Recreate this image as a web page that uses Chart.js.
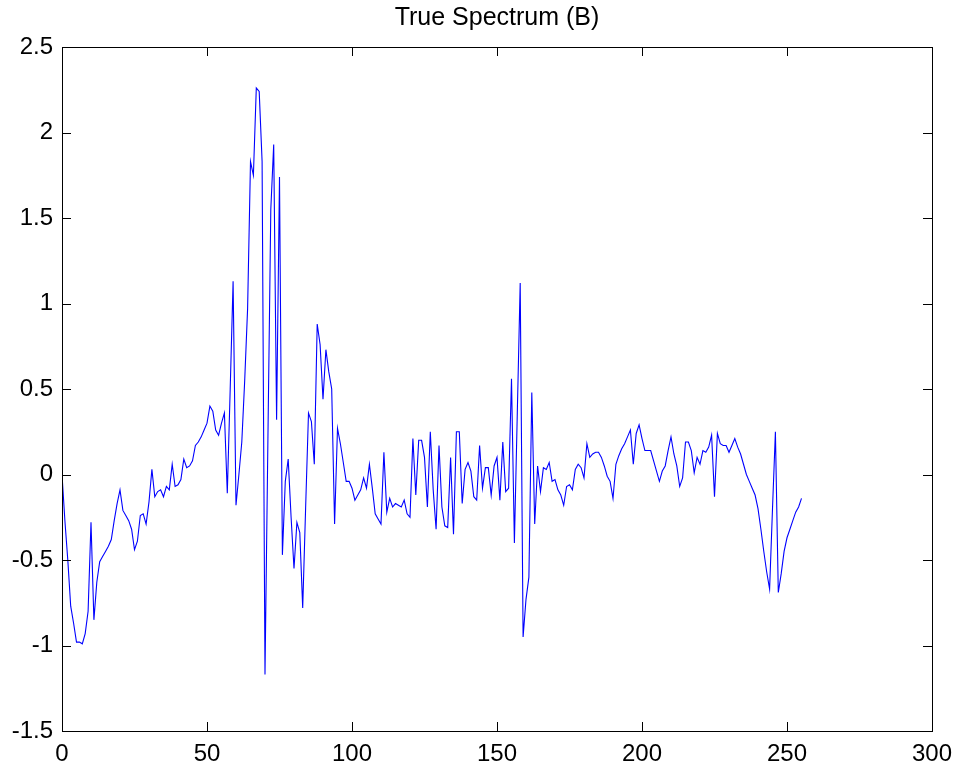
<!DOCTYPE html>
<html>
<head>
<meta charset="utf-8">
<script src="https://cdn.jsdelivr.net/npm/chart.js@4.4.1/dist/chart.umd.min.js"></script>
<style>
  html, body { margin: 0; padding: 0; background: #fff; }
  #wrap { width: 956px; height: 768px; position: relative; }
</style>
</head>
<body>
<div id="wrap"><canvas id="spectrum"></canvas></div>
<script>
// Data (sample index 0..255)
const spectrum = [
  0, -0.27, -0.50, -0.77, -0.87, -0.98, -0.98, -0.99, -0.93, -0.80,
  -0.28, -0.85, -0.63, -0.51, -0.48, -0.45, -0.42, -0.38, -0.27, -0.17,
  -0.09, -0.21, -0.24, -0.27, -0.32, -0.44, -0.39, -0.24, -0.23, -0.29,
  -0.16, 0.03, -0.13, -0.10, -0.09, -0.13, -0.07, -0.09, 0.06, -0.07,
  -0.06, -0.03, 0.09, 0.04, 0.05, 0.08, 0.17, 0.19, 0.22, 0.26,
  0.30, 0.40, 0.37, 0.26, 0.23, 0.30, 0.36, -0.11, 0.50, 1.13,
  -0.18, 0.00, 0.19, 0.55, 0.97, 1.83, 1.75, 2.26, 2.24, 1.83,
  -1.17, 0.20, 1.55, 1.93, 0.32, 1.74, -0.47, -0.04, 0.09, -0.25,
  -0.55, -0.28, -0.34, -0.78, -0.20, 0.36, 0.31, 0.06, 0.88, 0.76,
  0.44, 0.73, 0.60, 0.50, -0.29, 0.27, 0.18, 0.07, -0.04, -0.04,
  -0.08, -0.15, -0.12, -0.09, -0.02, -0.08, 0.06, -0.08, -0.23, -0.26,
  -0.29, 0.13, -0.22, -0.14, -0.19, -0.17, -0.18, -0.19, -0.15, -0.23,
  -0.25, 0.21, -0.12, 0.20, 0.20, 0.10, -0.19, 0.25, -0.09, -0.32,
  0.17, -0.19, -0.30, -0.31, 0.10, -0.35, 0.25, 0.25, -0.17, 0.03,
  0.07, 0.02, -0.13, -0.15, 0.17, -0.08, 0.04, 0.04, -0.12, 0.05,
  0.10, -0.15, 0.19, -0.10, -0.08, 0.56, -0.40, 0.36, 1.12, -0.95,
  -0.73, -0.60, 0.48, -0.29, 0.05, -0.10, 0.04, 0.03, 0.07, -0.04,
  -0.03, -0.09, -0.12, -0.18, -0.07, -0.06, -0.09, 0.03, 0.06, 0.04,
  -0.02, 0.18, 0.10, 0.12, 0.13, 0.13, 0.10, 0.05, -0.01, -0.04,
  -0.14, 0.06, 0.11, 0.15, 0.18, 0.22, 0.26, 0.06, 0.24, 0.29,
  0.21, 0.14, 0.14, 0.14, 0.08, 0.02, -0.04, 0.02, 0.05, 0.14,
  0.22, 0.12, 0.05, -0.07, -0.02, 0.19, 0.19, 0.14, 0.01, 0.10,
  0.06, 0.14, 0.13, 0.16, 0.23, -0.13, 0.24, 0.18, 0.17, 0.17,
  0.13, 0.17, 0.21, 0.16, 0.12, 0.06, 0.00, -0.04, -0.08, -0.12,
  -0.20, -0.32, -0.45, -0.57, -0.67, -0.20, 0.25, -0.69, -0.58, -0.45,
  -0.37, -0.32, -0.27, -0.22, -0.19, -0.14
];

// Tick values
const xTicks = [0, 50, 100, 150, 200, 250, 300];
const yTicks = [-1.5, -1, -0.5, 0, 0.5, 1, 1.5, 2, 2.5];

const FONT = "'Liberation Sans', Arial, Helvetica, sans-serif";

// Box with inward ticks on all four sides
const frameTicks = {
  id: 'frameTicks',
  afterDraw(chart) {
    const { ctx, chartArea: a, scales: { x, y } } = chart;
    const len = 9;
    ctx.save();
    ctx.strokeStyle = '#000';
    ctx.lineWidth = 1;
    ctx.strokeRect(a.left + 0.5, a.top + 0.5, a.right - a.left, a.bottom - a.top);
    ctx.beginPath();
    xTicks.forEach(v => {
      const px = Math.round(x.getPixelForValue(v)) + 0.5;
      ctx.moveTo(px, a.bottom);
      ctx.lineTo(px, a.bottom - len);
      ctx.moveTo(px, a.top);
      ctx.lineTo(px, a.top + len);
    });
    yTicks.forEach(v => {
      const py = Math.round(y.getPixelForValue(v)) + 0.5;
      ctx.moveTo(a.left, py);
      ctx.lineTo(a.left + len, py);
      ctx.moveTo(a.right, py);
      ctx.lineTo(a.right - len, py);
    });
    ctx.stroke();
    ctx.restore();
  }
};

const ctx = document.getElementById('spectrum').getContext('2d');
new Chart(ctx, {
  type: 'line',
  data: {
    datasets: [{
      label: 'True Spectrum (B)',
      data: spectrum.map((v, i) => ({ x: i, y: v })),
      borderColor: '#0000ff',
      borderWidth: 1.1,
      pointRadius: 0,
      tension: 0,
      fill: false
    }]
  },
  options: {
    responsive: true,
    maintainAspectRatio: false,
    animation: false,
    layout: { padding: { left: 0, right: 24, top: 0, bottom: 0 } },
    plugins: {
      legend: { display: false },
      tooltip: { enabled: false },
      title: {
        display: true,
        fullSize: false,
        text: 'True Spectrum (B)',
        color: '#000',
        font: { family: FONT, size: 25, weight: 'normal', lineHeight: 1.2 },
        padding: { top: 3, bottom: 14 }
      }
    },
    scales: {
      x: {
        type: 'linear',
        min: 0,
        max: 300,
        afterBuildTicks: s => { s.ticks = xTicks.map(v => ({ value: v })); },
        afterFit: s => { s.height = 37; s.paddingLeft = 0; s.paddingRight = 0; },
        grid: { display: false, drawTicks: false },
        border: { display: false },
        ticks: {
          color: '#000',
          padding: 9,
          maxRotation: 0,
          font: { family: FONT, size: 24 },
          callback: v => String(v)
        }
      },
      y: {
        type: 'linear',
        min: -1.5,
        max: 2.5,
        afterBuildTicks: s => { s.ticks = yTicks.map(v => ({ value: v })); },
        afterFit: s => { s.width = 62; s.paddingTop = 0; s.paddingBottom = 0; },
        grid: { display: false, drawTicks: false },
        border: { display: false },
        ticks: {
          color: '#000',
          padding: 9,
          font: { family: FONT, size: 24 },
          callback: v => String(v)
        }
      }
    }
  },
  plugins: [frameTicks]
});
</script>
</body>
</html>
